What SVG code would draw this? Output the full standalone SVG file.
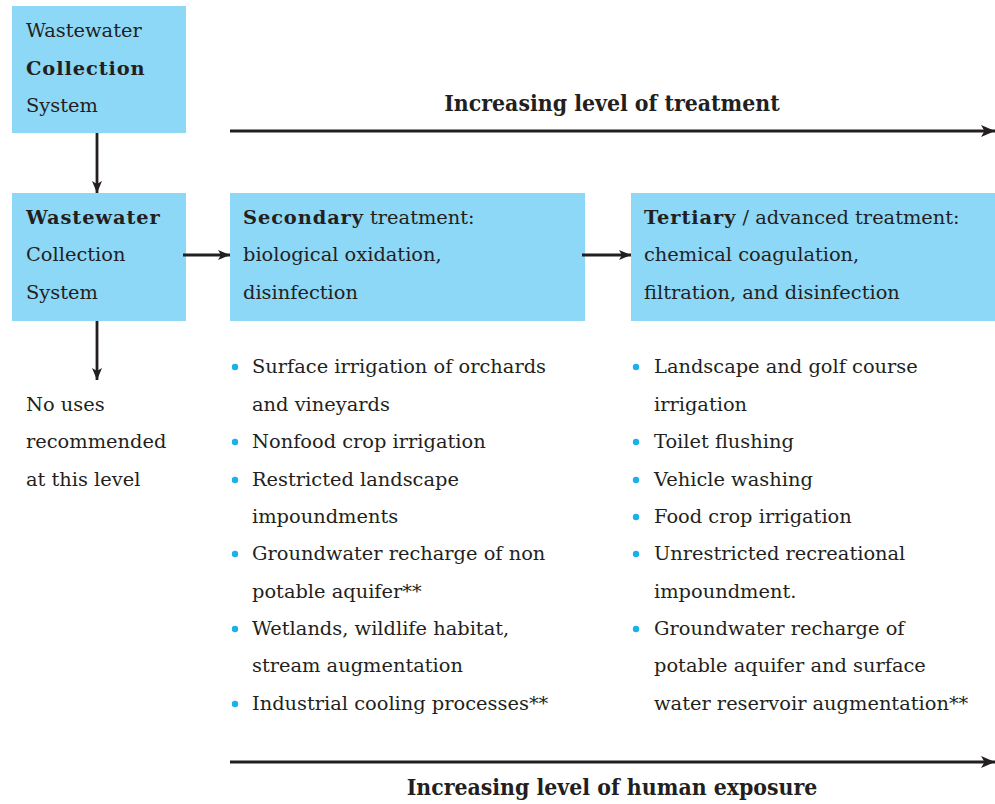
<svg xmlns="http://www.w3.org/2000/svg" width="995" height="804" viewBox="0 0 995 804">
<style>
.box{fill:#8dd7f7}
.t{font-family:"DejaVu Serif","Liberation Serif",serif;font-size:19.4px;fill:#231f20}
.b{font-weight:bold;letter-spacing:0.9px}
.h{font-family:"DejaVu Serif Condensed","DejaVu Serif","Liberation Serif",serif;font-stretch:condensed;font-size:22.8px;font-weight:bold;fill:#231f20}
.ln{stroke:#231f20;stroke-width:2.8;fill:none}
.dot{fill:#1ab0ea}
</style>
<defs>
<marker id="ah" viewBox="0 0 12 10" refX="12" refY="5" markerWidth="12" markerHeight="10" markerUnits="userSpaceOnUse" orient="auto">
<path d="M0,0 L12,5 L0,10 L3,5 Z" fill="#231f20"/>
</marker>
<marker id="ahL" viewBox="0 0 14 12" refX="14" refY="6" markerWidth="14" markerHeight="12" markerUnits="userSpaceOnUse" orient="auto">
<path d="M0,0 L14,6 L0,12 L3.5,6 Z" fill="#231f20"/>
</marker>
</defs>
<rect width="995" height="804" fill="#fff"/>
<g id="collection1">
<rect class="box" x="12" y="6" width="174" height="127"/>
<text class="t" x="26" y="37">Wastewater</text>
<text class="t b" x="26" y="75">Collection</text>
<text class="t" x="26" y="112">System</text>
</g>
<g id="collection2">
<rect class="box" x="12" y="193" width="174" height="128"/>
<text class="t b" x="26" y="224">Wastewater</text>
<text class="t" x="26" y="261">Collection</text>
<text class="t" x="26" y="299">System</text>
</g>
<g id="secondary">
<rect class="box" x="230" y="193" width="355" height="128"/>
<text class="t" x="243" y="224"><tspan class="b">Secondary</tspan> treatment:</text>
<text class="t" x="243" y="261">biological oxidation,</text>
<text class="t" x="243" y="299">disinfection</text>
</g>
<g id="tertiary">
<rect class="box" x="631" y="193" width="364" height="128"/>
<text class="t" x="644" y="224"><tspan class="b">Tertiary</tspan> / advanced treatment:</text>
<text class="t" x="644" y="261">chemical coagulation,</text>
<text class="t" x="644" y="299">filtration, and disinfection</text>
</g>
<g id="nouses">
<text class="t" x="26" y="411">No uses</text>
<text class="t" x="26" y="448">recommended</text>
<text class="t" x="26" y="486">at this level</text>
</g>
<g id="secondary-uses">
<circle class="dot" cx="235" cy="367" r="3.2"/>
<circle class="dot" cx="235" cy="442" r="3.2"/>
<circle class="dot" cx="235" cy="480" r="3.2"/>
<circle class="dot" cx="235" cy="554" r="3.2"/>
<circle class="dot" cx="235" cy="629" r="3.2"/>
<circle class="dot" cx="235" cy="704" r="3.2"/>
<text class="t" x="252" y="373">Surface irrigation of orchards</text>
<text class="t" x="252" y="411">and vineyards</text>
<text class="t" x="252" y="448">Nonfood crop irrigation</text>
<text class="t" x="252" y="486">Restricted landscape</text>
<text class="t" x="252" y="523">impoundments</text>
<text class="t" x="252" y="560">Groundwater recharge of non</text>
<text class="t" x="252" y="598">potable aquifer**</text>
<text class="t" x="252" y="635">Wetlands, wildlife habitat,</text>
<text class="t" x="252" y="672">stream augmentation</text>
<text class="t" x="252" y="710">Industrial cooling processes**</text>
</g>
<g id="tertiary-uses">
<circle class="dot" cx="636" cy="367" r="3.2"/>
<circle class="dot" cx="636" cy="442" r="3.2"/>
<circle class="dot" cx="636" cy="480" r="3.2"/>
<circle class="dot" cx="636" cy="517" r="3.2"/>
<circle class="dot" cx="636" cy="554" r="3.2"/>
<circle class="dot" cx="636" cy="629" r="3.2"/>
<text class="t" x="654" y="373">Landscape and golf course</text>
<text class="t" x="654" y="411">irrigation</text>
<text class="t" x="654" y="448">Toilet flushing</text>
<text class="t" x="654" y="486">Vehicle washing</text>
<text class="t" x="654" y="523">Food crop irrigation</text>
<text class="t" x="654" y="560">Unrestricted recreational</text>
<text class="t" x="654" y="598">impoundment.</text>
<text class="t" x="654" y="635">Groundwater recharge of</text>
<text class="t" x="654" y="672">potable aquifer and surface</text>
<text class="t" x="654" y="710">water reservoir augmentation**</text>
</g>
<g id="labels">
<text class="h" x="612" y="111" text-anchor="middle">Increasing level of treatment</text>
<text class="h" x="612" y="795" text-anchor="middle">Increasing level of human exposure</text>
</g>
<g id="connectors">
<line class="ln" x1="97" y1="133" x2="97" y2="193" marker-end="url(#ah)"/>
<line class="ln" x1="97" y1="321" x2="97" y2="380" marker-end="url(#ah)"/>
<line class="ln" x1="183" y1="255" x2="230" y2="255" marker-end="url(#ah)"/>
<line class="ln" x1="582" y1="255" x2="631" y2="255" marker-end="url(#ah)"/>
<line class="ln" x1="230" y1="131" x2="995" y2="131" marker-end="url(#ahL)"/>
<line class="ln" x1="230" y1="762" x2="995" y2="762" marker-end="url(#ahL)"/>
</g>
</svg>
